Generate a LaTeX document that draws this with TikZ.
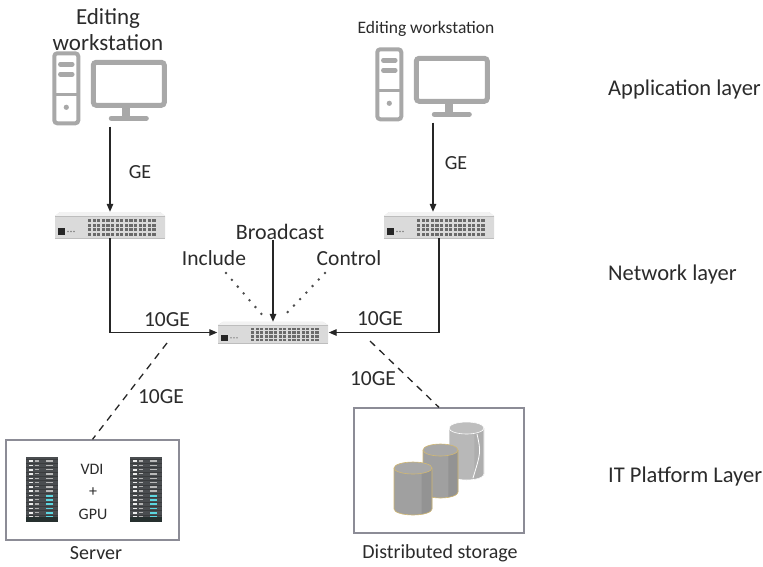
\documentclass[tikz,border=0pt]{standalone}
\usepackage{fontspec}
\setmainfont{Carlito}
\usetikzlibrary{arrows.meta,calc}

\definecolor{txt}{HTML}{2B2B2B}
\definecolor{icongray}{HTML}{A8A8A8}
\definecolor{swtop}{HTML}{F2F2F2}
\definecolor{swbody}{HTML}{DADADA}
\definecolor{swedge}{HTML}{BDBDBD}
\definecolor{portc}{HTML}{6A6A6A}
\definecolor{boxline}{HTML}{8C8C96}
\definecolor{rack}{HTML}{4A4D50}
\definecolor{rackline}{HTML}{3A3C3E}
\definecolor{rackbase}{HTML}{26302F}
\definecolor{cyanled}{HTML}{5CD6E0}
\definecolor{cylBody}{HTML}{A0A0A0}
\definecolor{cylShade}{HTML}{939393}
\definecolor{cylTop}{HTML}{A8A8A8}
\definecolor{cylEdge}{HTML}{D2B872}

\tikzset{
  lbl/.style={text=txt, inner sep=0pt, font=\fontsize{20}{24}\selectfont},
  biglbl/.style={text=txt, inner sep=0pt, font=\fontsize{21.5}{25}\selectfont},
  small/.style={text=txt, inner sep=0pt, font=\fontsize{16}{19}\selectfont},
  layer/.style={text=txt, inner sep=0pt, anchor=west, font=\fontsize{22.5}{26}\selectfont},
  link/.style={line width=1.3pt, draw=black!85,
    -{Triangle[length=8pt,width=6.5pt]}},
  dashlink/.style={line width=1.3pt, draw=black!85, dash pattern=on 7pt off 6pt},
  dotlink/.style={line width=2.8pt, draw=black!70, line cap=round, dash pattern=on 0pt off 9pt},
  holder/.style={inner sep=0pt, minimum width=#1},
  platform/.style={draw=boxline, line width=1.3pt, inner sep=0pt},
  % rack mounted network switch, centred on its origin
  switchpic/.pic={
    \fill[swbody] (-55,-9) -- (-50,-13) -- (50,-13) -- (55,-9) -- (55,13) -- (-55,13) -- cycle;
    \fill[swtop] (-55,-9) -- (-50,-13) -- (50,-13) -- (55,-9) -- cycle;
    \draw[swedge, line width=0.5pt] (-55,-9) -- (55,-9);
    \draw[swedge, line width=0.5pt] (-55,13) -- (55,13);
    \foreach \i in {0,...,14}
      \foreach \j in {0,...,3}
        \fill[portc] ({-22+\i*4.6},{-6+\j*4.6}) rectangle +(3.2,3);
    \fill[black!85] (-52,3) rectangle (-45,10);
    \foreach \k in {0,1,2}
      \fill[black!50] ({-42+\k*3},6.5) circle (0.9);
  },
  % desktop workstation: tower and monitor, origin at the top left
  workstation/.pic={
    \draw[icongray, line width=4pt, rounded corners=3pt] (2,2) rectangle (26,72);
    \draw[icongray, line width=3.5pt] (2,43) -- (26,43);
    \draw[icongray, line width=4.5pt, line cap=round] (8,13) -- (20,13);
    \draw[icongray, line width=4.5pt, line cap=round] (8,23) -- (20,23);
    \fill[icongray] (14,56) circle (2.6);
    \draw[icongray, line width=5pt, rounded corners=3pt] (41,11) rectangle (112,54);
    \fill[icongray] (70,56) rectangle (78,66);
    \draw[icongray, line width=5pt, line cap=round] (59,67) -- (94,67);
  },
  % server rack with status lights, origin at the top left
  rackpic/.pic={
    \fill[rack] (0,0) rectangle (32,65);
    \foreach \r in {0,...,13} {
      \draw[rackline, line width=0.5pt] (0,{2+\r*4.3}) -- (32,{2+\r*4.3});
      \fill[white!85!gray] (3,{3.3+\r*4.3}) rectangle +(4,1.6);
      \fill[gray!60] (9,{3.3+\r*4.3}) rectangle +(4,1.2);
    }
    \foreach \r in {0,...,7}
      \fill[gray!55] (20,{3.3+\r*4.3}) rectangle +(7,1.4);
    \foreach \r in {8,...,13}
      \fill[cyanled] (20,{3.3+\r*4.3}) rectangle +(7,1.8);
    \fill[rackbase] (0,60) rectangle (32,65);
  },
}

% upright storage cylinder: centre x, top y, bottom y, half width, tint, edge colour
% (y grows downwards, so the front rim runs through angle 90)
\newcommand{\storecyl}[6]{%
  \fill[cylBody!#5]
    ({#1-#4},#2) -- ({#1-#4},#3) arc[start angle=180, end angle=0, x radius=#4, y radius=6]
    -- ({#1+#4},#2) -- cycle;
  \fill[cylShade!#5]
    ({#1+0.45*#4},#2) -- ({#1+0.45*#4},{#3+5.36}) arc[start angle=63.3, end angle=0, x radius=#4, y radius=6]
    -- ({#1+#4},#2) -- cycle;
  \draw[#6, line width=0.6pt] ({#1-#4},#2) -- ({#1-#4},#3)
    arc[start angle=180, end angle=0, x radius=#4, y radius=6] -- ({#1+#4},#2);
  \fill[cylTop!#5] (#1,#2) ellipse[x radius=#4, y radius=6];
  \draw[#6, line width=0.6pt] (#1,#2) ellipse[x radius=#4, y radius=6];
}

\begin{document}
\begin{tikzpicture}[x=1pt, y=-1pt]
  \useasboundingbox (0,0) rectangle (763,566);
  \fill[white] (0,0) rectangle (763,566);

  % ---------- application layer ----------
  \node[holder=115pt, minimum height=75pt] (ws1) at (110,89) {};
  \pic at (ws1.north west) {workstation};
  \node[lbl, align=center, font=\fontsize{23}{26}\selectfont] (ws1t) at (108,30) {Editing\\workstation};

  \node[holder=115pt, minimum height=75pt] (ws2) at (433,85) {};
  \pic at (ws2.north west) {workstation};
  \node[lbl, font=\fontsize{17.5}{20}\selectfont] (ws2t) at (426,29) {Editing workstation};

  \node[layer] (appl) at (608,89) {Application layer};

  % ---------- network layer ----------
  \node[holder=110pt, minimum height=26pt] (sw1) at (110,225) {};
  \pic at (sw1) {switchpic};
  \node[holder=112pt, minimum height=26pt] (sw2) at (439,225) {};
  \pic at (sw2) {switchpic};
  \node[holder=111pt, minimum height=21pt] (core) at (273,332.5) {};
  \pic[yscale=0.82] at (core) {switchpic};

  \node[lbl] (ge1) at (140,172) {GE};
  \node[lbl] (ge2) at (456,163) {GE};
  \draw[link] (ws1.south) -- (sw1.north);
  \draw[link] (ws2.south) -- (ws2.south |- sw2.north);

  \node[biglbl, font=\fontsize{22}{26}\selectfont] (bc) at (280,232) {Broadcast};
  \node[biglbl] (inc) at (214,258) {Include};
  \node[biglbl] (ctl) at (349,258) {Control};
  \draw[link] (bc.south -| core.north) -- (core.north);
  \coordinate (incEnd) at (226,273);
  \coordinate (incTip) at (264,317);
  \coordinate (ctlEnd) at (325,273);
  \coordinate (ctlTip) at (283,317);
  \draw[dotlink] (incEnd) -- (incTip);
  \draw[dotlink] (ctlEnd) -- (ctlTip);

  \draw[link] (sw1.south) |- (core.west);
  \draw[link] (sw2.south) |- (core.east);
  \node[biglbl] (tg1) at (167,320) {10GE};
  \node[biglbl] (tg2) at (380,319) {10GE};

  \node[layer] (netl) at (608,274) {Network layer};

  % ---------- IT platform layer ----------
  \node[platform, minimum width=173pt, minimum height=100pt] (srv) at (92.5,490) {};
  \pic at (26,457) {rackpic};
  \pic at (130,457) {rackpic};
  \node[small] (vdi) at (92,469) {VDI};
  \node[small] (plus) at (93,492) {+};
  \node[small] (gpu) at (93,514) {GPU};
  \node[lbl] (srvt) at (96,553) {Server};

  \node[platform, minimum width=170pt, minimum height=125pt] (stor) at (439,470.5) {};
  \storecyl{466.5}{428}{474}{17.5}{75!white}{white}
  \draw[white, line width=0.8pt] (477,434) .. controls (481,452) .. (473,478);
  \storecyl{440.5}{450}{492}{17.5}{100}{cylEdge}
  \storecyl{413}{468}{509}{19}{100}{cylEdge}
  \node[lbl] (stort) at (440,553) {Distributed storage};

  \coordinate (dl) at (167,343);
  \coordinate (dr) at (370,341);
  \draw[dashlink] (dl) -- (srv.north);
  \draw[dashlink] (dr) -- (stor.north);
  \node[biglbl] (tg3) at (161,397) {10GE};
  \node[biglbl] (tg4) at (373,379) {10GE};

  \node[layer] (itl) at (608,476) {IT Platform Layer};
\end{tikzpicture}
\end{document}
